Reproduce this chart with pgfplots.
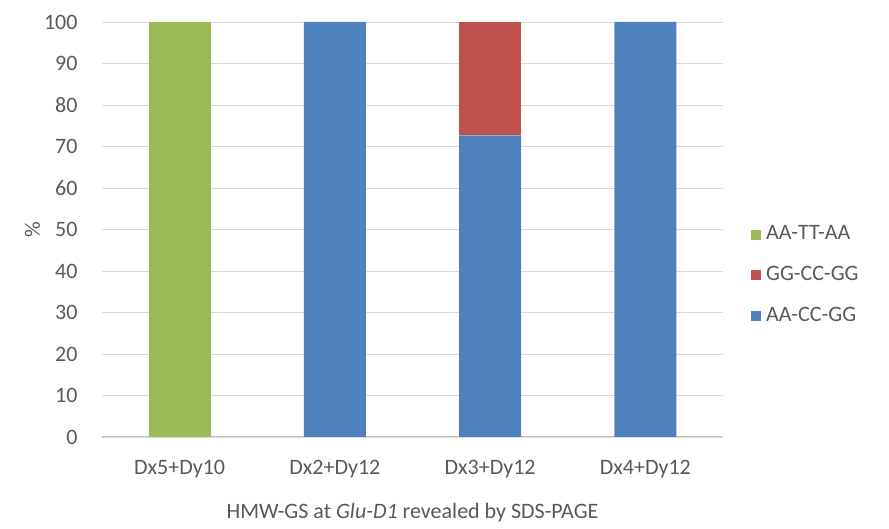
\documentclass[border=0pt]{standalone}
\usepackage{pgfplots}
\pgfplotsset{compat=1.18}
\usepackage{fontspec}
\setmainfont{Carlito}
\definecolor{txt}{HTML}{595959}
\definecolor{gridc}{HTML}{D9D9D9}
\definecolor{baseln}{HTML}{BFBFBF}
\definecolor{cblue}{HTML}{4F81BD}
\definecolor{cred}{HTML}{C0504D}
\definecolor{cgreen}{HTML}{9BBB59}
\begin{document}
\fontsize{22}{26}\selectfont
\begin{tikzpicture}
\path[use as bounding box] (-102pt,-92pt) rectangle (787pt,437pt);
\begin{axis}[
  scale only axis,
  width=621pt, height=415pt,
  ybar stacked,
  bar width=62pt,
  xmin=-0.5, xmax=3.5,
  ymin=0, ymax=100,
  ytick={0,10,...,100},
  xtick={0,1,2,3},
  xticklabels={Dx5+Dy10,Dx2+Dy12,Dx3+Dy12,Dx4+Dy12},
  ymajorgrids,
  grid style={gridc, line width=0.8pt},
  axis line style={draw=none},
  major tick length=0pt,
  tick label style={txt, font=\fontsize{22}{26}\selectfont},
  /pgf/number format/assume math mode=true,
  yticklabel style={xshift=-17pt},
  xticklabel style={yshift=-16pt},
  ylabel={\%},
  ylabel style={txt, font=\fontsize{22}{26}\selectfont, yshift=-11pt},
  xlabel={HMW-GS at \textit{Glu-D1} revealed by SDS-PAGE},
  xlabel style={txt, font=\fontsize{22}{26}\selectfont, yshift=-10pt},
  reverse legend,
  legend style={at={(1.045,0.39)}, anchor=west, draw=none, fill=none,
    font=\fontsize{22}{26}\selectfont, text=txt, row sep=19pt,
    inner sep=0pt, nodes={inner xsep=5pt}},
  legend cell align=left,
  area legend,
  legend image code/.code={\fill[#1] (0pt,-5pt) rectangle (10pt,5pt);},
]
\addplot[fill=cblue, draw=none] coordinates {(0,0) (1,100) (2,72.7) (3,100)};
\addlegendentry{AA-CC-GG}
\addplot[fill=cred, draw=none] coordinates {(0,0) (1,0) (2,27.3) (3,0)};
\addlegendentry{GG-CC-GG}
\addplot[fill=cgreen, draw=none] coordinates {(0,100) (1,0) (2,0) (3,0)};
\addlegendentry{AA-TT-AA}
\draw[baseln, line width=1pt] (rel axis cs:0,0) -- (rel axis cs:1,0);
\end{axis}
\end{tikzpicture}
\end{document}
